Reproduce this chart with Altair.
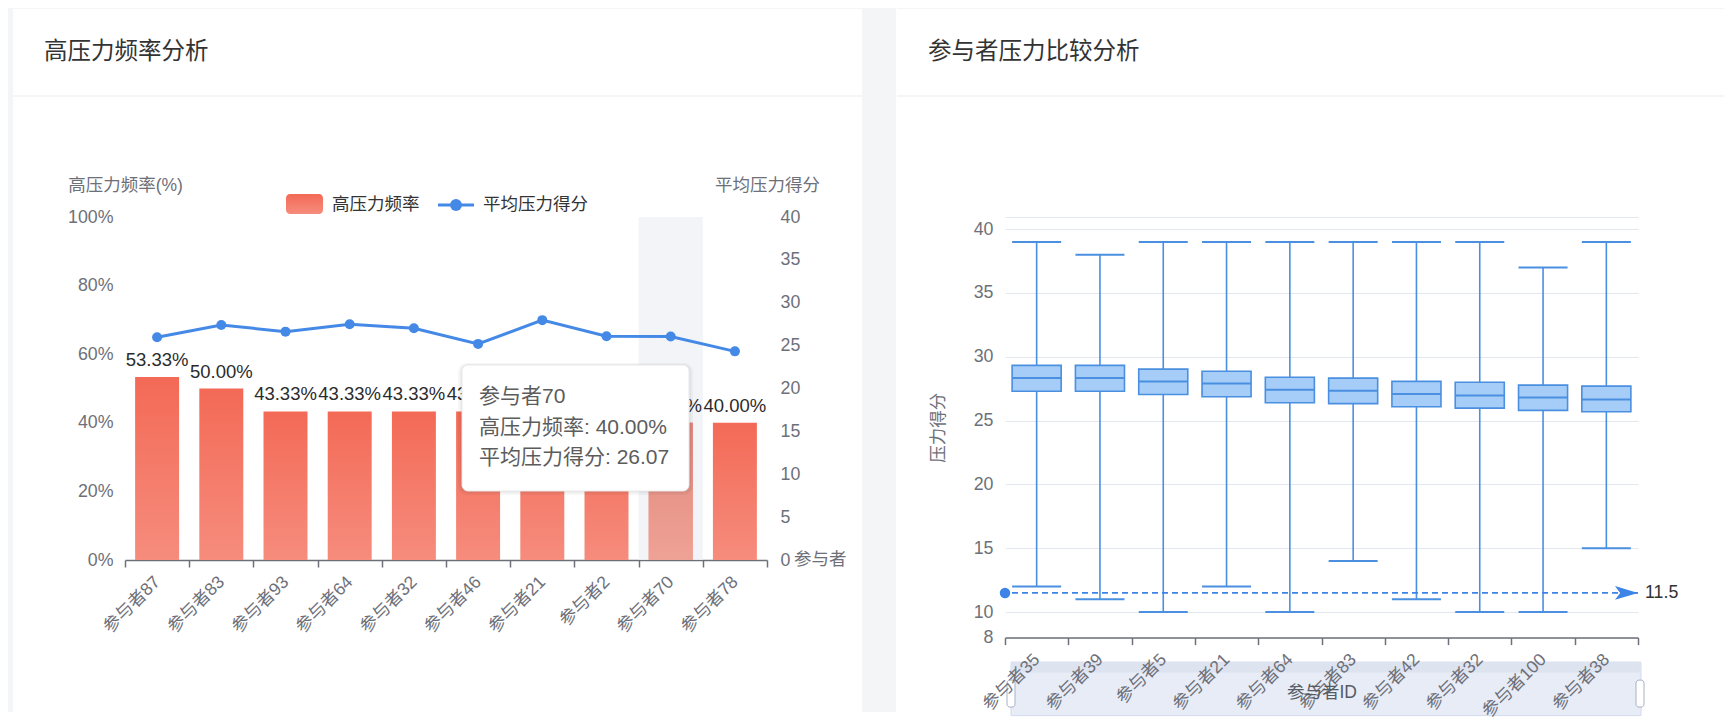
import altair as alt
import pandas as pd

FONT = "Liberation Sans, Noto Sans CJK SC, sans-serif"

# ---------------- left panel data ----------------
freq_participants = ["参与者87", "参与者83", "参与者93", "参与者64", "参与者32",
                     "参与者46", "参与者21", "参与者2", "参与者70", "参与者78"]
high_freq_pct = [53.33, 50.00, 43.33, 43.33, 43.33, 43.33, 43.33, 40.00, 40.00, 40.00]
avg_scores = [25.97, 27.40, 26.63, 27.50, 27.03, 25.20, 27.97, 26.10, 26.07, 24.33]
freq_ticks = [0, 20, 40, 60, 80, 100]
score_ticks = [0, 5, 10, 15, 20, 25, 30, 35, 40]
focus_participant = "参与者70"
tooltip_lines = ["参与者70", "高压力频率: 40.00%", "平均压力得分: 26.07"]
legend_names = ["高压力频率", "平均压力得分"]

# ---------------- right panel data ----------------
box_participants = ["参与者35", "参与者39", "参与者5", "参与者21", "参与者64",
                    "参与者83", "参与者42", "参与者32", "参与者100", "参与者38"]
box_min = [12, 11, 10, 12, 10, 14, 11, 10, 10, 15]
box_q1 = [27.30, 27.30, 27.05, 26.87, 26.40, 26.33, 26.08, 25.98, 25.80, 25.69]
box_median = [28.33, 28.33, 28.07, 27.90, 27.42, 27.33, 27.08, 26.97, 26.80, 26.65]
box_q3 = [29.33, 29.33, 29.03, 28.87, 28.40, 28.33, 28.07, 28.00, 27.78, 27.70]
box_max = [39, 38, 39, 39, 39, 39, 39, 39, 37, 39]
box_ticks = [8, 10, 15, 20, 25, 30, 35, 40, 40.95]
mark_value = 11.5

# ---------------- styling ----------------
AXIS_GRAY = "#6e7079"
GRID = "#e3e7ef"
LINE_BLUE = "#4589e6"
BOX_STROKE = "#4a8fe0"
BOX_FILL = "#a5cdf8"
PAGE_GRAY = "#f4f5f7"
W1, H1 = 642, 343
W2, H2 = 633, 420.6

one = pd.DataFrame({"k": [0]})


def rect(x, x2, y, y2, **kw):
    return alt.Chart(one).mark_rect(**kw).encode(
        x=alt.value(x), x2=alt.value(x2), y=alt.value(y), y2=alt.value(y2))


def hline(x, x2, y, **kw):
    return alt.Chart(one).mark_rule(**kw).encode(
        x=alt.value(x), x2=alt.value(x2), y=alt.value(y))


def label(x, y, s, **kw):
    return alt.Chart(one).mark_text(**kw).encode(
        x=alt.value(x), y=alt.value(y), text=alt.value(s))


bar_grad = alt.Gradient(
    gradient="linear",
    stops=[alt.GradientStop(color="#f36a56", offset=0),
           alt.GradientStop(color="#f68c7d", offset=1)],
    x1=1, x2=1, y1=0, y2=1)
focus_grad = alt.Gradient(
    gradient="linear",
    stops=[alt.GradientStop(color="#e3877d", offset=0),
           alt.GradientStop(color="#eea295", offset=1)],
    x1=1, x2=1, y1=0, y2=1)

# ================= LEFT PANEL =================
dfL = pd.DataFrame({
    "participant": freq_participants,
    "freq": high_freq_pct,
    "score": avg_scores,
    "label": [f"{v:.2f}%" for v in high_freq_pct],
})

xL = alt.X("participant:N", sort=freq_participants, title=None,
           scale=alt.Scale(paddingInner=0, paddingOuter=0),
           axis=alt.Axis(labelAngle=-45, labelAlign="right", labelBaseline="middle",
                         labelPadding=12, labelFontSize=17.5, labelColor=AXIS_GRAY,
                         domainColor=AXIS_GRAY, domainWidth=1.5, tickColor=AXIS_GRAY,
                         tickWidth=1.5, tickSize=7, tickBand="extent", grid=False))
axisL = alt.Axis(orient="left", values=freq_ticks, labelExpr="datum.value + '%'",
                 title="高压力频率(%)", titleAngle=0, titleX=0, titleY=-32,
                 titleAlign="center", titleBaseline="middle", titleFontSize=17.5,
                 titleFontWeight="normal", titleColor=AXIS_GRAY, labelFontSize=17.8,
                 labelColor=AXIS_GRAY, labelPadding=12, domain=False, ticks=False,
                 gridColor=GRID)
scaleL = alt.Scale(domain=[0, 100], nice=False)
axisR = alt.Axis(orient="right", values=score_ticks, title="平均压力得分", titleAngle=0,
                 titleX=0, titleY=-32, titleAlign="center", titleBaseline="middle",
                 titleFontSize=17.5, titleFontWeight="normal", titleColor=AXIS_GRAY,
                 labelFontSize=17.8, labelColor=AXIS_GRAY, labelPadding=13,
                 domain=False, ticks=False, gridColor=GRID)
scaleR = alt.Scale(domain=[0, 40], nice=False)

baseL = alt.Chart(dfL)
band = baseL.transform_filter(alt.datum.participant == focus_participant).mark_bar(
    width=alt.RelativeBandSize(1.0), color="#eef0f6", opacity=0.75).encode(
    x=xL, y=alt.Y(datum=100, scale=scaleL, axis=axisL), y2=alt.Y2(datum=0))
bars = baseL.mark_bar(width=alt.RelativeBandSize(0.685), color=bar_grad).encode(
    x=xL, y=alt.Y("freq:Q", scale=scaleL, axis=axisL))
focus_bar = baseL.transform_filter(alt.datum.participant == focus_participant).mark_bar(
    width=alt.RelativeBandSize(0.685), color=focus_grad).encode(
    x=xL, y=alt.Y("freq:Q", scale=scaleL, axis=axisL))
bar_labels = baseL.mark_text(dy=-17, fontSize=18.5, color="#2b2b2b", baseline="middle").encode(
    x=xL, y=alt.Y("freq:Q", scale=scaleL, axis=axisL), text="label:N")
left_group = alt.layer(band, bars, focus_bar, bar_labels)

line = baseL.mark_line(color=LINE_BLUE, strokeWidth=3).encode(
    x=xL, y=alt.Y("score:Q", scale=scaleR, axis=axisR))
pts = baseL.mark_point(filled=True, size=100, color=LINE_BLUE, opacity=1).encode(
    x=xL, y=alt.Y("score:Q", scale=scaleR, axis=axisR))
right_group = alt.layer(line, pts)

decorL = [
    rect(-117, -112, -209, 495, color=PAGE_GRAY),
    rect(W1 + 95, W1 + 129, -209, 495, color=PAGE_GRAY),
    rect(-117, W1 + 129, -209, -208, color=PAGE_GRAY),
    hline(-112, W1 + 95, -121, color="#ececec", strokeWidth=1.2),
    label(-81, -165, "高压力频率分析", fontSize=23.5, color="#333", align="left", baseline="middle"),
    # legend
    rect(161, 198, -23, -3, color=bar_grad, cornerRadius=4),
    label(207, -12, legend_names[0], fontSize=17.5, color="#333", align="left", baseline="middle"),
    hline(313, 349, -12, color=LINE_BLUE, strokeWidth=3),
    alt.Chart(one).mark_point(filled=True, size=140, color=LINE_BLUE, opacity=1).encode(
        x=alt.value(331), y=alt.value(-12)),
    label(358, -12, legend_names[1], fontSize=17.5, color="#333", align="left", baseline="middle"),
]
xname_left = label(W1 + 27, H1, "参与者ID", fontSize=17.5, color=AXIS_GRAY, align="left",
                   baseline="middle", limit=54, ellipsis="\u200b")
tooltip = [
    rect(333, 568, 146, 278, color="#000000", opacity=0.035, cornerRadius=9),
    rect(335, 566, 147, 276, color="#000000", opacity=0.04, cornerRadius=8),
    rect(337, 564, 148, 274, fill="white", stroke="#e8e8e8", strokeWidth=1, cornerRadius=6),
]
for i, s in enumerate(tooltip_lines):
    tooltip.append(label(354, 180 + 30.5 * i, s, fontSize=21, color="#5c5c5c",
                         align="left", baseline="middle"))

left = alt.layer(*decorL, left_group, right_group, xname_left, *tooltip).resolve_scale(
    y="independent").properties(width=W1, height=H1)

# ================= RIGHT PANEL =================
dfR = pd.DataFrame({
    "participant": box_participants,
    "min": box_min, "q1": box_q1, "median": box_median, "q3": box_q3, "max": box_max,
})
xR = alt.X("participant:N", sort=box_participants,
           scale=alt.Scale(paddingInner=0, paddingOuter=0),
           axis=alt.Axis(title="参与者ID", titleX=W2 / 2, titleY=55, titleAlign="center",
                         titleBaseline="middle", titleFontSize=17.5, titleFontWeight="normal",
                         titleColor="#555a63", labelAngle=-45, labelAlign="right",
                         labelBaseline="middle", labelPadding=12, labelFontSize=17.5,
                         labelColor=AXIS_GRAY, domainColor=AXIS_GRAY, domainWidth=1.5,
                         tickColor=AXIS_GRAY, tickWidth=1.5, tickSize=7, tickBand="extent",
                         grid=False, zindex=1))
scaleB = alt.Scale(domain=[8, 40.95], nice=False, zero=False)
axisB = alt.Axis(values=box_ticks, labelExpr="datum.value > 40.5 ? '' : datum.label",
                 title="压力得分", titleAngle=-90, titleX=-67, titleY=H2 / 2,
                 titleAlign="center", titleBaseline="middle", titleFontSize=17.5,
                 titleFontWeight="normal", titleColor=AXIS_GRAY, labelFontSize=17.8,
                 labelColor=AXIS_GRAY, labelPadding=12, domain=False, ticks=False,
                 gridColor=GRID)


def yB(f):
    return alt.Y(f, scale=scaleB, axis=axisB)


baseR = alt.Chart(dfR)
whisk = baseR.mark_rule(color=BOX_STROKE, strokeWidth=1.6).encode(
    x=xR, y=yB("min:Q"), y2="max:Q")
cap_lo = baseR.mark_tick(color=BOX_STROKE, size=49, thickness=2, opacity=1).encode(x=xR, y=yB("min:Q"))
cap_hi = baseR.mark_tick(color=BOX_STROKE, size=49, thickness=2, opacity=1).encode(x=xR, y=yB("max:Q"))
boxes = baseR.mark_bar(width=alt.RelativeBandSize(0.775), fill=BOX_FILL, stroke=BOX_STROKE,
                       strokeWidth=1.6).encode(x=xR, y=yB("q1:Q"), y2="q3:Q")
med = baseR.mark_tick(color=BOX_STROKE, size=49, thickness=2, opacity=1).encode(x=xR, y=yB("median:Q"))

dfM = pd.DataFrame({"v": [mark_value], "t": [f"{mark_value}"]})
ARROW = "M-1,-0.6 L1,0 L-1,0.6 L-0.55,0 Z"
mline = alt.Chart(dfM).mark_rule(color="#3d84e6", strokeDash=[6, 4], strokeWidth=1.6).encode(
    y=yB("v:Q"))
mstart = alt.Chart(dfM).mark_point(filled=True, size=110, color="#3d84e6", opacity=1).encode(
    x=alt.value(0), y=yB("v:Q"))
marrow = alt.Chart(dfM).mark_point(filled=True, shape=ARROW, size=530, color="#3d84e6",
                                   opacity=1).encode(x=alt.value(W2 - 11.5), y=yB("v:Q"))
mtext = alt.Chart(dfM).mark_text(align="left", baseline="middle", fontSize=17.8,
                                 color="#333").encode(x=alt.value(W2 + 7), y=yB("v:Q"),
                                                      text="t:N")

decorR = [
    rect(-108, 719, -209, -208, color=PAGE_GRAY),
    hline(-108, 719, -121, color="#ececec", strokeWidth=1.2),
    label(-77, -165, "参与者压力比较分析", fontSize=23.5, color="#333", align="left", baseline="middle"),
]
slider = [
    rect(6, 636, H2 + 24.5, H2 + 78, fill="#e7ecf7", stroke="#d2dbee", strokeWidth=1),
    rect(6, 636, H2 + 24.5, H2 + 35, fill="#dde3ef"),
    rect(2, 10, H2 + 42.5, H2 + 69.5, fill="white", stroke="#a7b1c4", strokeWidth=1, cornerRadius=3),
    rect(631, 639, H2 + 42.5, H2 + 69.5, fill="white", stroke="#a7b1c4", strokeWidth=1, cornerRadius=3),
]

right = alt.layer(*decorR, *slider, whisk, cap_lo, cap_hi, boxes, med,
                  mline, mstart, marrow, mtext).properties(width=W2, height=H2)

chart = alt.hconcat(left, right, spacing=0).properties(
    padding=0, background="white"
).configure(font=FONT).configure_view(strokeWidth=0)

chart.save("out.html", embed_options={"renderer": "svg", "actions": False})
